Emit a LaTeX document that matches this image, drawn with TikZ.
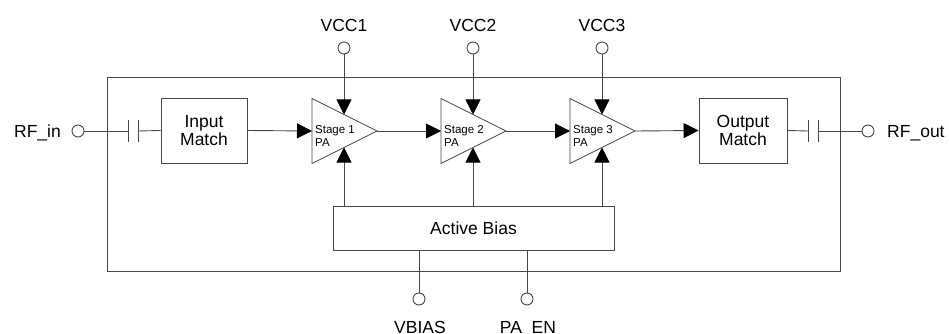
\documentclass[tikz,border=0pt]{standalone}
\usepackage{fontspec}
\setmainfont{Liberation Sans}
\usetikzlibrary{arrows.meta,calc}
\begin{document}
\begin{tikzpicture}[x=1pt,y=-1pt,
  wire/.style={line width=0.9pt, draw=black!72},
  arr/.style={wire, -{Triangle[length=15pt,width=15pt,color=black]}},
  pin/.style={circle, draw=black!72, line width=0.9pt, fill=white, minimum size=12pt, inner sep=0pt},
  blk/.style={draw=black!72, line width=0.9pt, align=center, inner sep=0pt, font=\fontsize{17.5}{18}\selectfont},
  lbl/.style={inner sep=0pt, font=\fontsize{17.5}{18}\selectfont},
  stg/.style={inner sep=0pt, align=left, anchor=west, font=\fontsize{11.5}{13}\selectfont}
]
\useasboundingbox (0,0) rectangle (949,334);
% outer chip boundary
\node[draw=black!72, line width=0.9pt, minimum width=733pt, minimum height=194pt, inner sep=0pt] (chip) at (473.5,174) {};

% pins
\node[pin] (rfin) at (78,131) {};
\node[lbl, anchor=base east] (rfinl) at (61,137) {RF\_in};
\node[pin] (rfout) at (868,131) {};
\node[lbl, anchor=base west] (rfoutl) at (887,137) {RF\_out};

% matching blocks
\node[blk, minimum width=86pt, minimum height=65pt] (inm) at (204,130.5) {Input\\Match};
\node[blk, minimum width=88pt, minimum height=65pt] (outm) at (743,130.5) {Output\\Match};

% input capacitor
\coordinate (c1a) at (128,131);
\coordinate (c1b) at (138,131);
\draw[wire] (128,120) -- (128,142);
\draw[wire] (138,120) -- (138,142);
\draw[wire] (rfin) -- (c1a);
\draw[wire] (c1b) -- (inm.west);

% output capacitor
\coordinate (c2a) at (808,131);
\coordinate (c2b) at (818,131);
\draw[wire] (808,120) -- (808,142);
\draw[wire] (818,120) -- (818,142);
\draw[wire] (outm.east) -- (c2a);
\draw[wire] (c2b) -- (rfout);

% active bias
\node[blk, minimum width=281pt, minimum height=44pt] (bias) at (473.5,228) {Active Bias};

% stages
\foreach \i/\L in {1/312,2/441,3/570} {
  \draw[wire, line width=0.8pt] (\L,98.5) -- (\L+65,131) -- (\L,163.5) -- cycle;
  \coordinate (s\i in) at (\L,131);
  \coordinate (s\i out) at (\L+65,131);
  \coordinate (s\i top) at (\L+32,114.5);
  \coordinate (s\i bot) at (\L+32,147.5);
  \coordinate (b\i) at (\L+32,206);
  \node[pin] (vcc\i) at (\L+32,48) {};
  \node[lbl] (vcc\i l) at (\L+32,25) {VCC\i};
  \node[stg] (st\i) at (\L+3,135.5) {Stage \i\\PA};
  \draw[arr] (vcc\i) -- (s\i top);
  \draw[arr] (b\i) -- (s\i bot);
}

% signal chain
\draw[arr] (inm.east) -- (s1in);
\draw[arr] (s1out) -- (s2in);
\draw[arr] (s2out) -- (s3in);
\draw[arr] (s3out) -- (outm.west);

% bias pins
\coordinate (vb0) at (419,250);
\coordinate (pe0) at (527,250);
\node[pin] (vbias) at (419,299) {};
\node[pin] (paen) at (527,299) {};
\draw[wire] (vb0) -- (vbias);
\draw[wire] (pe0) -- (paen);
\node[lbl, anchor=base] (vbiasl) at (420,333) {VBIAS};
\node[lbl, anchor=base] (paenl) at (528,333) {PA\_EN};
\end{tikzpicture}
\end{document}
